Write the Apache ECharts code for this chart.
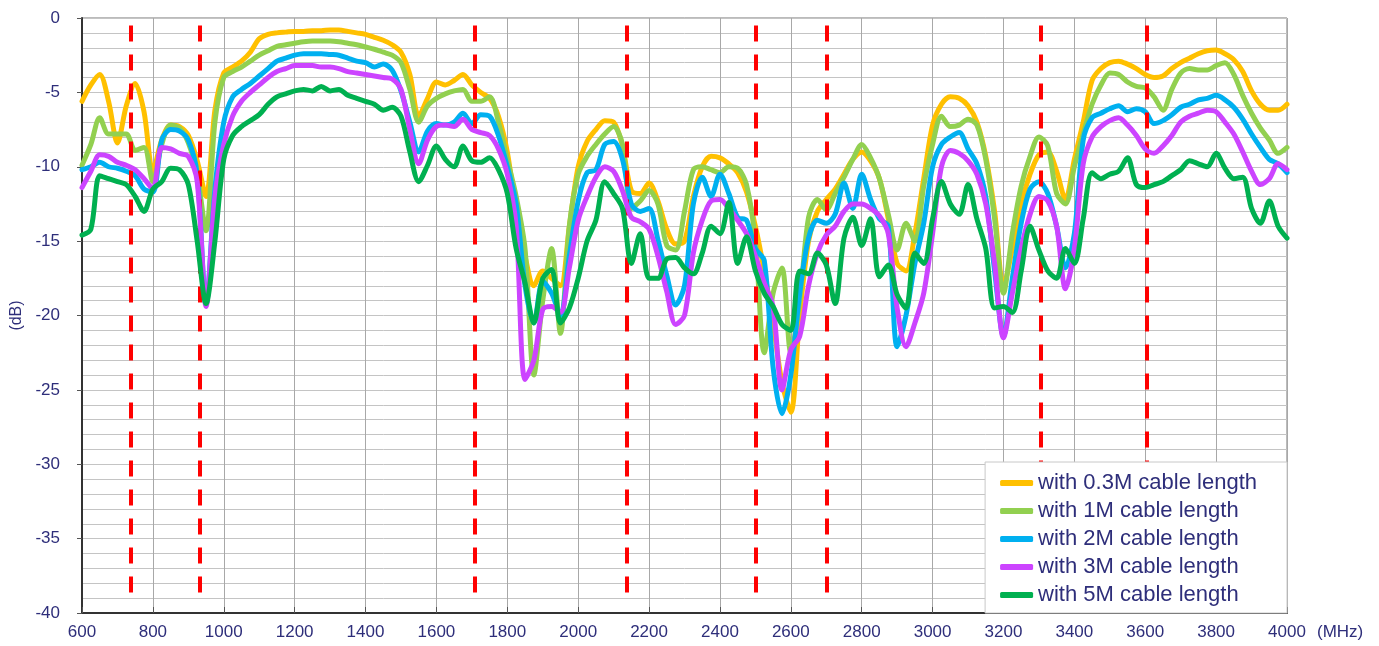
<!DOCTYPE html>
<html>
<head>
<meta charset="utf-8">
<script src="https://cdn.jsdelivr.net/npm/echarts@6/dist/echarts.min.js"></script>
<style>
html,body{margin:0;padding:0;background:#fff;}
#chart{width:1379px;height:646px;}
</style>
</head>
<body>
<div id="chart"></div>
<script>
// Frequency grid (MHz)
const freqMHz = [600,625,650,675,700,725,750,775,800,825,850,875,900,925,950,975,1000,1025,1050,1075,1100,1125,1150,1175,1200,1225,1250,1275,1300,1325,1350,1375,1400,1425,1450,1475,1500,1525,1550,1575,1600,1625,1650,1675,1700,1725,1750,1775,1800,1825,1850,1875,1900,1925,1950,1975,2000,2025,2050,2075,2100,2125,2150,2175,2200,2225,2250,2275,2300,2325,2350,2375,2400,2425,2450,2475,2500,2525,2550,2575,2600,2625,2650,2675,2700,2725,2750,2775,2800,2825,2850,2875,2900,2925,2950,2975,3000,3025,3050,3075,3100,3125,3150,3175,3200,3225,3250,3275,3300,3325,3350,3375,3400,3425,3450,3475,3500,3525,3550,3575,3600,3625,3650,3675,3700,3725,3750,3775,3800,3825,3850,3875,3900,3925,3950,3975,4000];

const cable03m = [-5.6,-4.5,-3.8,-5.6,-8.4,-5.9,-4.4,-6.3,-10.3,-8.2,-7.2,-7.3,-7.9,-9.6,-12.0,-6.2,-3.7,-3.3,-2.9,-2.3,-1.4,-1.1,-1.0,-0.95,-0.9,-0.9,-0.85,-0.85,-0.8,-0.8,-0.9,-1.0,-1.1,-1.3,-1.5,-1.8,-2.3,-3.8,-6.6,-5.4,-4.3,-4.5,-4.2,-3.8,-4.5,-5.0,-5.4,-6.6,-9.0,-13.0,-16.0,-18.0,-17.0,-17.5,-18.0,-14.0,-10.0,-8.3,-7.5,-6.9,-7.0,-8.6,-11.6,-11.8,-11.1,-12.3,-14.2,-15.2,-15.0,-12.0,-10.0,-9.3,-9.4,-9.8,-10.4,-11.7,-14.0,-17.0,-20.5,-24.5,-26.5,-20.0,-15.0,-13.0,-12.2,-11.5,-10.5,-9.5,-9.0,-9.6,-10.8,-13.5,-16.5,-17.0,-14.5,-10.8,-7.2,-5.8,-5.3,-5.4,-5.9,-7.0,-9.3,-13.0,-18.0,-15.5,-12.5,-10.5,-9.2,-9.0,-10.3,-12.2,-9.5,-7.0,-4.2,-3.4,-3.0,-2.9,-3.1,-3.4,-3.8,-4.0,-3.9,-3.4,-3.0,-2.7,-2.4,-2.2,-2.15,-2.4,-2.8,-3.6,-4.9,-5.8,-6.2,-6.2,-5.8];

const cable1m = [-9.9,-8.5,-6.7,-7.8,-7.8,-7.8,-8.9,-8.7,-11.0,-8.5,-7.2,-7.4,-8.4,-10.5,-14.3,-7.0,-4.0,-3.6,-3.3,-2.9,-2.5,-2.2,-1.9,-1.8,-1.7,-1.6,-1.55,-1.55,-1.55,-1.6,-1.7,-1.8,-1.95,-2.1,-2.3,-2.5,-3.0,-4.8,-7.0,-5.9,-5.4,-5.1,-4.9,-4.8,-5.6,-5.6,-5.3,-7.0,-9.5,-12.0,-15.5,-24.0,-19.0,-15.5,-21.2,-14.0,-10.5,-9.3,-8.5,-7.8,-7.3,-8.5,-12.8,-12.3,-11.6,-12.5,-15.3,-15.6,-13.0,-10.2,-10.0,-10.2,-10.4,-10.0,-10.1,-11.2,-15.0,-22.5,-18.5,-16.8,-22.5,-19.0,-13.4,-12.2,-12.9,-11.8,-10.7,-9.5,-8.5,-9.4,-10.8,-13.2,-15.6,-13.8,-15.0,-11.3,-8.5,-6.6,-7.3,-7.2,-6.8,-7.2,-9.5,-13.5,-18.5,-14.5,-11.3,-9.3,-8.0,-8.6,-11.8,-12.5,-10.0,-7.8,-5.8,-4.5,-3.7,-3.8,-4.3,-4.6,-4.7,-5.3,-6.2,-4.8,-3.7,-3.4,-3.5,-3.5,-3.2,-3.0,-3.8,-5.2,-6.4,-7.4,-8.2,-9.1,-8.7];

const cable2m = [-10.2,-10.0,-9.7,-10.0,-10.1,-10.3,-10.6,-11.5,-11.7,-8.2,-7.5,-7.6,-8.2,-10.5,-19.3,-11.5,-7.0,-5.3,-4.8,-4.4,-3.9,-3.4,-2.9,-2.7,-2.5,-2.4,-2.4,-2.4,-2.45,-2.5,-2.7,-2.9,-3.0,-3.3,-3.1,-3.5,-4.9,-7.0,-9.0,-7.6,-7.1,-7.2,-7.0,-6.4,-7.1,-6.5,-6.6,-7.9,-10.0,-12.5,-18.0,-20.5,-17.7,-18.5,-20.0,-16.0,-12.3,-10.4,-10.2,-8.5,-8.3,-9.5,-12.5,-13.0,-12.8,-14.9,-17.3,-19.3,-18.0,-12.5,-10.7,-12.0,-10.5,-11.8,-13.4,-13.6,-15.5,-16.3,-23.5,-26.6,-24.0,-18.5,-14.8,-13.6,-13.8,-13.2,-11.1,-12.8,-10.5,-12.2,-13.5,-14.0,-22.1,-20.0,-16.5,-13.8,-10.0,-8.5,-8.0,-7.7,-8.8,-9.8,-12.0,-17.0,-21.4,-17.5,-13.8,-11.5,-11.0,-11.8,-14.0,-16.8,-14.5,-8.2,-6.7,-6.4,-6.1,-5.9,-6.3,-6.1,-6.3,-7.1,-6.9,-6.5,-6.0,-5.8,-5.5,-5.4,-5.2,-5.5,-6.0,-6.8,-7.8,-8.7,-9.5,-9.8,-10.4];

const cable3m = [-11.4,-10.3,-9.2,-9.3,-9.7,-9.9,-10.2,-10.8,-11.5,-8.7,-8.8,-9.1,-9.3,-11.0,-19.4,-12.0,-8.5,-6.6,-5.6,-5.0,-4.5,-4.0,-3.6,-3.4,-3.2,-3.2,-3.2,-3.3,-3.3,-3.4,-3.6,-3.7,-3.8,-3.9,-4.0,-4.1,-4.8,-7.5,-9.8,-8.2,-7.3,-7.2,-7.3,-6.8,-7.5,-7.7,-7.9,-8.8,-10.5,-14.0,-24.3,-23.0,-19.6,-19.4,-19.8,-16.8,-13.6,-12.0,-10.7,-10.0,-10.3,-11.6,-13.4,-13.7,-14.2,-16.0,-18.4,-20.6,-20.0,-15.8,-13.6,-12.3,-12.2,-12.8,-13.6,-14.5,-16.0,-17.8,-19.4,-25.0,-22.3,-21.4,-18.0,-15.8,-14.6,-14.0,-13.0,-12.5,-12.5,-12.8,-13.3,-14.5,-19.5,-22.1,-20.5,-18.5,-14.5,-10.0,-8.9,-9.1,-9.6,-10.5,-12.5,-16.5,-21.5,-18.5,-15.5,-13.2,-12.0,-12.3,-14.0,-18.2,-15.5,-9.8,-8.0,-7.3,-6.9,-6.7,-7.2,-7.9,-8.8,-9.1,-8.6,-7.9,-7.0,-6.6,-6.4,-6.2,-6.3,-7.0,-7.8,-9.0,-10.3,-11.2,-10.8,-9.8,-10.2];

const cable5m = [-14.6,-14.2,-10.6,-10.8,-11.0,-11.2,-12.0,-13.0,-11.5,-11.0,-10.1,-10.2,-11.2,-15.0,-19.2,-15.0,-9.5,-7.9,-7.3,-6.9,-6.5,-5.8,-5.3,-5.1,-4.9,-4.8,-4.9,-4.6,-4.9,-4.8,-5.2,-5.4,-5.6,-5.8,-6.2,-6.0,-6.6,-9.0,-11.0,-9.9,-8.6,-9.5,-10.0,-8.6,-9.6,-9.7,-9.4,-10.2,-11.8,-15.5,-17.8,-20.5,-17.5,-16.9,-20.5,-19.5,-17.5,-15.0,-13.6,-11.0,-11.8,-12.8,-16.5,-14.5,-17.5,-17.5,-16.2,-16.1,-16.8,-17.2,-15.8,-14.0,-14.5,-12.4,-16.5,-14.7,-17.0,-18.5,-19.4,-20.6,-21.0,-17.0,-17.2,-15.8,-16.6,-19.2,-14.8,-13.4,-15.3,-13.5,-17.4,-16.6,-18.6,-19.5,-15.8,-16.5,-13.5,-11.0,-12.5,-13.2,-11.2,-13.5,-15.5,-19.5,-19.4,-19.8,-17.0,-14.0,-15.6,-17.0,-17.5,-15.5,-16.5,-13.5,-10.4,-10.8,-10.5,-10.3,-9.4,-11.2,-11.4,-11.2,-11.0,-10.6,-10.2,-9.6,-9.8,-10.0,-9.1,-10.1,-10.8,-10.7,-12.8,-13.8,-12.3,-14.0,-14.8];

const seriesNames = ['with 0.3M cable length','with 1M cable length','with 2M cable length','with 3M cable length','with 5M cable length'];
const seriesColors = ['#FFC000','#92D050','#00B0F0','#CC44FF','#00B050'];
const bandEdgesMHz = [738, 933, 1707, 2136, 2500, 2700, 3304, 3604];

const textColor = '#2E2E7A';
const allSeries = [cable03m, cable1m, cable2m, cable3m, cable5m];

const chart = echarts.init(document.getElementById('chart'), null, {renderer:'canvas'});

const series = allSeries.map((vals, i) => ({
  name: seriesNames[i],
  type: 'line',
  data: freqMHz.map((f, k) => [f, vals[k]]),
  showSymbol: false,
  smooth: 0.3,
  lineStyle: {color: seriesColors[i], width: 5, cap: 'round', join: 'round'},
  itemStyle: {color: seriesColors[i]},
  z: 2 + i
}));

series.push({
  name: 'bands',
  type: 'line',
  data: [],
  z: 20,
  markLine: {
    silent: true,
    symbol: ['none','none'],
    label: {show: false},
    lineStyle: {color: '#FF0000', type: [16, 13], width: 4},
    data: bandEdgesMHz.map(v => [{coord: [v, -0.5]}, {coord: [v, -39.5]}])
  }
});

chart.setOption({
  animation: false,
  backgroundColor: '#ffffff',
  textStyle: {fontFamily: 'Liberation Sans, Arial, sans-serif'},
  grid: {left: 82, right: 92, top: 18, bottom: 33, show: true, borderColor: '#777', borderWidth: 1, backgroundColor: 'transparent'},
  legend: {
    data: seriesNames,
    orient: 'vertical',
    right: 92,
    bottom: 33,
    z: 40,
    padding: [10, 30, 7, 15],
    itemGap: 6,
    itemWidth: 33,
    itemHeight: 6,
    icon: 'roundRect',
    backgroundColor: '#ffffff',
    borderColor: '#c8c8c8',
    borderWidth: 1,
    textStyle: {color: textColor, fontSize: 22, lineHeight: 22, fontFamily: 'Liberation Sans, Arial, sans-serif'}
  },
  xAxis: {
    type: 'value',
    min: 600,
    max: 4000,
    interval: 200,
    name: '(MHz)',
    nameLocation: 'end',
    nameGap: 30,
    nameTextStyle: {color: textColor, fontSize: 17, align: 'left', verticalAlign: 'top', padding: [11, 0, 0, 0]},
    axisLine: {show: true, onZero: false, lineStyle: {color: '#333', width: 2}},
    axisTick: {show: true, inside: true, length: 6, lineStyle: {color: '#555'}},
    axisLabel: {color: textColor, fontSize: 17, margin: 11, showMinLabel: true, showMaxLabel: true, formatter: v => String(v)},
    splitLine: {show: true, lineStyle: {color: '#a8a8a8', width: 1}}
  },
  yAxis: {
    type: 'value',
    min: -40,
    max: 0,
    interval: 5,
    name: '(dB)',
    nameLocation: 'middle',
    nameRotate: 90,
    nameGap: 54,
    nameTextStyle: {color: textColor, fontSize: 16},
    axisLine: {show: true, lineStyle: {color: '#333', width: 2}},
    axisTick: {show: true, length: 5, lineStyle: {color: '#555'}},
    axisLabel: {color: textColor, fontSize: 17, margin: 22, formatter: v => String(v)},
    minorTick: {show: false, splitNumber: 5},
    splitLine: {show: true, lineStyle: {color: '#c4c4c4', width: 1}},
    minorSplitLine: {show: true, lineStyle: {color: '#c4c4c4', width: 1}}
  },
  series: series
});
</script>
</body>
</html>
